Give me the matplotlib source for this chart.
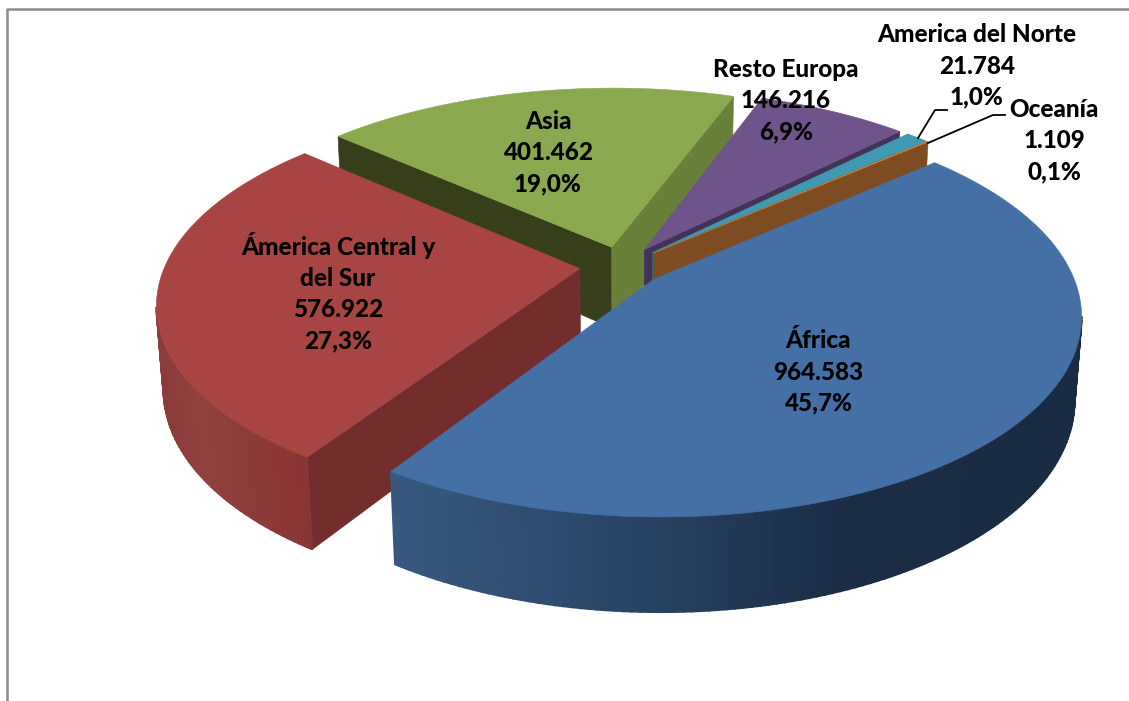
import numpy as np
import matplotlib
matplotlib.use('Agg')
import matplotlib.pyplot as plt
from matplotlib.colors import to_rgb

# data
names = ['África', 'Ámerica Central y\ndel Sur', 'Asia', 'Resto Europa', 'America del Norte', 'Oceanía']
values = [964583, 576922, 401462, 146216, 21784, 1109]
shown = ['964.583', '576.922', '401.462', '146.216', '21.784', '1.109']
pcts = ['45,7%', '27,3%', '19,0%', '6,9%', '1,0%', '0,1%']

top_cols = ['#4470a5', '#a84442', '#8aa84e', '#6f548c', '#4099b0', '#e07c28']
cut_cols = ['#1b2d45', '#722d2c', '#363e1c', '#443358', '#2b6f80', '#7e4c23']
cut2_cols = ['#1b2d45', '#722d2c', '#68803a', '#443358', '#2b6f80', '#7e4c23']
label_pos = [(818, 372), (338, 292), (548, 153), (786, 101), (977, 66), (1054, 141)]

# projection of the tilted disc
cx, cy = 622, 266
A, B, C = 415, 192.3, 83
p, q = 0.171, 0.015
explode = 0.102
start = 48.8
draw_order = [2, 3, 4, 5, 1, 0]


def proj(u, v, z=0.0):
    w = 1 + p * v - q * z
    return cx + A * u / w, cy - (B * v + C * z) / w


def poly(ax, pts, col, z, lw=0.4):
    xs, ys = zip(*pts)
    ax.fill(xs, ys, color=col, lw=lw, zorder=z)


def rim_col(i, x):
    if i == 0:
        stops = [397, 600, 850, 1080]
        cols = np.array([to_rgb('#38597f'), to_rgb('#2a486a'), to_rgb('#1b2d45'), to_rgb('#1a2c44')])
    else:
        stops = [160, 200, 300]
        cols = np.array([to_rgb('#8b3c3a'), to_rgb('#90403d'), to_rgb('#8a3635')])
    if i > 1:
        return cut_cols[i]
    return tuple(np.interp(x, stops, cols[:, k]) for k in range(3))


fig = plt.figure(figsize=(11.29, 7.01), dpi=100)
ax = fig.add_axes([0, 0, 1, 1])
ax.set_xlim(0, 1129)
ax.set_ylim(701, 0)
ax.axis('off')

fracs = np.array(values) / sum(values)
edges = start + 360 * np.concatenate([[0], np.cumsum(fracs)])
cam = np.array([0.0, -1 / p])

z = 1
for i in draw_order:
    a0, a1 = np.radians(edges[i]), np.radians(edges[i + 1])
    mid = (a0 + a1) / 2
    du, dv = explode * np.sin(mid), explode * np.cos(mid)
    ang = np.linspace(a0, a1, max(int(np.degrees(a1 - a0)) + 2, 3))
    us, vs = du + np.sin(ang), dv + np.cos(ang)

    # cut faces, only the ones turned to the camera
    inner = np.array([du + np.sin(mid), dv + np.cos(mid)])
    tip = np.array([du, dv])
    for k, a in enumerate([a0, a1]):
        r = tip + np.array([np.sin(a), np.cos(a)])
        e = r - tip
        s_cam = e[0] * (cam - tip)[1] - e[1] * (cam - tip)[0]
        s_in = e[0] * (inner - tip)[1] - e[1] * (inner - tip)[0]
        if s_cam * s_in < 0:
            col = cut2_cols[i] if k == 1 else cut_cols[i]
            poly(ax, [proj(*tip), proj(*r), proj(r[0], r[1], -1), proj(tip[0], tip[1], -1)], col, z)
            z += 1

    # outer wall, slice by slice for the shading
    for k in range(len(ang) - 1):
        m = (ang[k] + ang[k + 1]) / 2
        nu, nv = np.sin(m), np.cos(m)
        pu, pv = du + nu, dv + nv
        if (cam[0] - pu) * nu + (cam[1] - pv) * nv > 0:
            quad = [proj(us[k], vs[k]), proj(us[k + 1], vs[k + 1]),
                    proj(us[k + 1], vs[k + 1], -1), proj(us[k], vs[k], -1)]
            poly(ax, quad, rim_col(i, quad[0][0]), z, lw=1.3)
            z += 1

    # top
    poly(ax, [proj(du, dv)] + [proj(a, b) for a, b in zip(us, vs)], top_cols[i], z)
    z += 1

# leader lines
ax.plot([918, 935, 947], [138, 110, 110], color='black', lw=1.3, zorder=z)
ax.plot([928, 993, 1005], [143, 115, 115], color='black', lw=1.3, zorder=z)

for i in range(len(names)):
    ax.text(label_pos[i][0], label_pos[i][1], names[i] + '\n' + shown[i] + '\n' + pcts[i],
            ha='center', va='center', family='Lato', weight=900, fontsize=17.5,
            linespacing=1.43, color='black', zorder=z + 1)

# chart frame
ax.plot([7, 7, 1129], [701, 9, 9], color='#8c8c8c', lw=1.8, zorder=z + 2)

plt.savefig('out.png', dpi=100)
